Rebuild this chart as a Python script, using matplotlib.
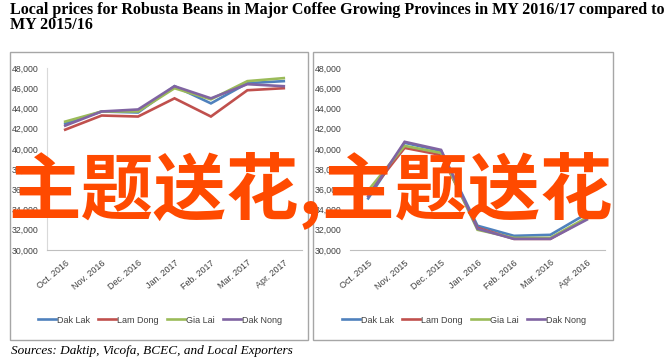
import matplotlib
matplotlib.use("Agg")
import matplotlib.pyplot as plt
from matplotlib.patches import Rectangle

# data (VND/kg)
months_1617 = ["Oct. 2016", "Nov. 2016", "Dec. 2016", "Jan. 2017", "Feb. 2017", "Mar. 2017", "Apr. 2017"]
months_1516 = ["Oct. 2015", "Nov. 2015", "Dec. 2015", "Jan. 2016", "Feb. 2016", "Mar. 2016", "Apr. 2016"]
provinces = ["Dak Lak", "Lam Dong", "Gia Lai", "Dak Nong"]
colors = ["#4F81BD", "#C0504D", "#9BBB59", "#8064A2"]

dak_lak_1617 = [42500, 43700, 43600, 46200, 44500, 46500, 46700]
lam_dong_1617 = [41900, 43300, 43200, 45000, 43200, 45800, 46000]
gia_lai_1617 = [42700, 43700, 43700, 46000, 44900, 46700, 47000]
dak_nong_1617 = [42300, 43700, 43900, 46200, 45000, 46400, 46200]

dak_lak_1516 = [35100, 40600, 39800, 32400, 31400, 31500, 33600]
lam_dong_1516 = [35500, 40100, 39400, 32200, 31100, 31100, 33100]
gia_lai_1516 = [35900, 40300, 39600, 32000, 31200, 31200, 33200]
dak_nong_1516 = [35300, 40700, 39900, 32100, 31100, 31100, 33000]

yticks = list(range(30000, 48001, 2000))

fig = plt.figure(figsize=(6.65, 3.59), dpi=100)
W, H = 665, 359

tick_font = ["Liberation Sans Narrow", "Liberation Sans"]

# title and source
fig.text(10/W, 1-2/H, "Local prices for Robusta Beans in Major Coffee Growing Provinces in MY 2016/17 compared to\nMY 2015/16",
         ha="left", va="top", fontsize=11.5, fontweight="bold", family="Liberation Serif", linespacing=0.94)
fig.text(11/W, 1-351/H, "Sources: Daktip, Vicofa, BCEC, and Local Exporters",
         ha="left", va="center", fontsize=9.5, style="italic", family="Liberation Serif")

# panel frames
fig.patches.append(Rectangle((10/W, 1-340/H), 298/W, 288/H, transform=fig.transFigure,
                             fill=False, edgecolor="#A6A6A6", lw=1))
fig.patches.append(Rectangle((313/W, 1-340/H), 300/W, 288/H, transform=fig.transFigure,
                             fill=False, edgecolor="#A6A6A6", lw=1))


def draw_panel(left_px, months, series, leg_x, show_yline):
    ax = fig.add_axes([left_px/W, 1-250/H, 255/W, 182/H])
    x = list(range(len(months)))
    for name, vals, c in zip(provinces, series, colors):
        ax.plot(x, vals, color=c, lw=1.9, label=name, solid_joinstyle="miter")
    ax.set_xlim(-0.5, len(months)-0.5)
    ax.set_ylim(30000, 48000)
    ax.set_yticks(yticks)
    ax.set_yticklabels([f"{v:,}" for v in yticks], fontsize=6.3, family=tick_font, color="#404040")
    ax.set_xticks(x)
    ax.set_xticklabels(months, rotation=40, ha="right", va="top", rotation_mode="anchor",
                       fontsize=6.5, family=tick_font, color="#404040")
    ax.tick_params(length=0, pad=6)
    for s in ["top", "right"]:
        ax.spines[s].set_visible(False)
    ax.spines["bottom"].set_color("#BFBFBF")
    ax.spines["left"].set_color("#D9D9D9")
    ax.spines["left"].set_visible(show_yline)
    ax.legend(loc="center", bbox_to_anchor=(leg_x, -0.385), ncol=4, frameon=False,
              prop={"family": tick_font, "size": 6.5}, handlelength=2.0, handletextpad=0.1,
              columnspacing=0.9, labelcolor="#404040")
    return ax


draw_panel(47, months_1617, [dak_lak_1617, lam_dong_1617, gia_lai_1617, dak_nong_1617], 0.443, True)
draw_panel(350, months_1516, [dak_lak_1516, lam_dong_1516, gia_lai_1516, dak_nong_1516], 0.447, False)

# overlay text on top of the picture
fig.text(8/W, 1-190/H, "主题送花,主题送花", ha="left", va="center", fontsize=52.3,
         fontweight="bold", color="#FF4A00", family=["Noto Sans CJK SC", "DejaVu Sans"], zorder=10)

fig.savefig("out.png", dpi=100)
